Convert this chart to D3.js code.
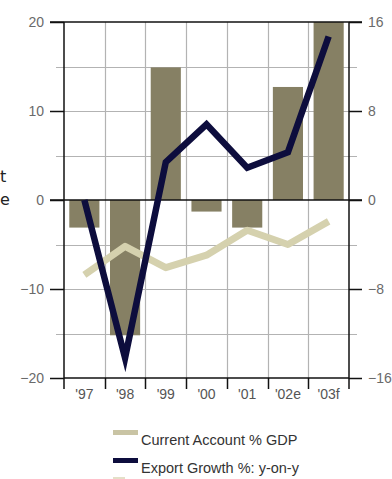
<!DOCTYPE html>
<html>
<head>
<meta charset="utf-8">
<script src="https://cdn.jsdelivr.net/npm/d3@7"></script>
<style>
  html, body { margin: 0; padding: 0; background: #fff; }
  svg { display: block; }
  text { font-family: "Liberation Sans", Arial, sans-serif; }
</style>
</head>
<body>
<svg id="chart" width="392" height="479"></svg>
<script>
// Categories (years; e = estimate, f = forecast)
const years = ["'97", "'98", "'99", "'00", "'01", "'02e", "'03f"];
// Bars on the left axis
const barValues = [-3.1, -15.2, 14.9, -1.3, -3.1, 12.7, 20];
// Current account, % of GDP (left axis)
const currentAccount = [-8.4, -5.2, -7.6, -6.2, -3.4, -5.0, -2.4];
// Export growth, % year-on-year (right axis)
const exportGrowth = [0, -14.2, 3.4, 6.8, 2.9, 4.3, 14.7];
// Axis ticks
const leftTicks = [20, 10, 0, -10, -20];
const rightTicks = [16, 8, 0, -8, -16];
const gridValues = [15, 10, 5, -5, -10, -15];
// Legend
const legendLabels = ["Current Account % GDP", "Export Growth %: y-on-y"];

const svg = d3.select("#chart");
const plot = { left: 64, right: 349, top: 22, bottom: 378 };

const x = d3.scaleBand().domain(years).range([plot.left, plot.right]).paddingInner(0).paddingOuter(0);
const yL = d3.scaleLinear().domain([-20, 20]).range([plot.bottom, plot.top]);
const yR = d3.scaleLinear().domain([-16, 16]).range([plot.bottom, plot.top]);

const gridColor = "#b3b3b3";
const barColor = "#868064";
const caColor = "#d5d1ae";
const expColor = "#0d0d3d";

// Horizontal gridlines
svg.append("g").selectAll("line").data(gridValues).join("line")
  .attr("x1", 56).attr("x2", 357)
  .attr("y1", d => Math.round(yL(d)) + 0.5).attr("y2", d => Math.round(yL(d)) + 0.5)
  .attr("stroke", gridColor).attr("stroke-width", 1.2);

// Vertical gridlines at category boundaries
const bounds = years.slice(1).map(d => x(d));
svg.append("g").selectAll("line").data(bounds).join("line")
  .attr("x1", d => Math.round(d) + 0.5).attr("x2", d => Math.round(d) + 0.5)
  .attr("y1", plot.top).attr("y2", plot.bottom)
  .attr("stroke", gridColor).attr("stroke-width", 1.2);

// Bars
const bw = x.bandwidth() * 0.74;
svg.append("g").selectAll("rect").data(years).join("rect")
  .attr("x", (d) => x(d) + (x.bandwidth() - bw) / 2)
  .attr("width", bw)
  .attr("y", (d, i) => Math.min(yL(0), yL(barValues[i])))
  .attr("height", (d, i) => Math.abs(yL(barValues[i]) - yL(0)))
  .attr("fill", barColor);

// Zero line
svg.append("line")
  .attr("x1", 50).attr("x2", 362)
  .attr("y1", yL(0)).attr("y2", yL(0))
  .attr("stroke", "#111").attr("stroke-width", 1.5);

// Lines
const cx = d => x(d) + x.bandwidth() / 2;
const caLine = d3.line().x((d, i) => cx(years[i])).y(d => yL(d));
const expLine = d3.line().x((d, i) => cx(years[i])).y(d => yR(d));

svg.append("path").datum(currentAccount)
  .attr("d", caLine).attr("fill", "none")
  .attr("stroke", caColor).attr("stroke-width", 7)
  .attr("stroke-linejoin", "round");

svg.append("path").datum(exportGrowth)
  .attr("d", expLine).attr("fill", "none")
  .attr("stroke", expColor).attr("stroke-width", 6.5)
  .attr("stroke-linejoin", "miter").attr("stroke-miterlimit", 10);

// Frame: top, left and right axes
const axisColor = "#111";
svg.append("line").attr("x1", 50).attr("x2", 362).attr("y1", plot.top).attr("y2", plot.top)
  .attr("stroke", axisColor).attr("stroke-width", 1.5);
svg.append("line").attr("x1", plot.left).attr("x2", plot.left).attr("y1", plot.top).attr("y2", 389)
  .attr("stroke", axisColor).attr("stroke-width", 1.5);
svg.append("line").attr("x1", plot.right).attr("x2", plot.right).attr("y1", plot.top).attr("y2", 389)
  .attr("stroke", axisColor).attr("stroke-width", 1.5);

// Left axis
const leftAxis = d3.axisLeft(yL).tickValues(leftTicks).tickSize(14).tickPadding(6).tickFormat(d3.format("d"));
const gL = svg.append("g").attr("transform", `translate(${plot.left},0)`).call(leftAxis);
gL.select(".domain").remove();
gL.selectAll(".tick line").attr("stroke", axisColor).attr("stroke-width", 1.5);
gL.selectAll(".tick text").attr("fill", "#6a6a6a").style("font-size", "14px").style("font-family", "Liberation Sans, Arial, sans-serif");

// Right axis
const rightAxis = d3.axisRight(yR).tickValues(rightTicks).tickSize(13).tickPadding(6).tickFormat(d3.format("d"));
const gR = svg.append("g").attr("transform", `translate(${plot.right},0)`).call(rightAxis);
gR.select(".domain").remove();
gR.selectAll(".tick line").attr("stroke", axisColor).attr("stroke-width", 1.5);
gR.selectAll(".tick text").attr("fill", "#6a6a6a").style("font-size", "14px").style("font-family", "Liberation Sans, Arial, sans-serif");

// Bottom axis: ticks at category boundaries, labels centred in each category
svg.append("g").selectAll("line").data(bounds).join("line")
  .attr("x1", d => Math.round(d) + 0.5).attr("x2", d => Math.round(d) + 0.5)
  .attr("y1", plot.bottom).attr("y2", 389)
  .attr("stroke", axisColor).attr("stroke-width", 1.5);
svg.append("line").attr("x1", plot.left).attr("x2", plot.right).attr("y1", plot.bottom).attr("y2", plot.bottom)
  .attr("stroke", axisColor).attr("stroke-width", 1.5);
svg.append("g").selectAll("text").data(years).join("text")
  .attr("x", d => cx(d)).attr("y", 399)
  .attr("text-anchor", "middle")
  .attr("fill", "#555").style("font-size", "14px")
  .text(d => d);

// Legend
const legendColors = [caColor, expColor];
const lg = svg.append("g");
legendLabels.forEach((label, i) => {
  const y0 = 430 + i * 28;
  lg.append("rect").attr("x", 113).attr("y", y0).attr("width", 25).attr("height", 5)
    .attr("fill", i === 0 ? "#c9c4a4" : legendColors[i]);
  lg.append("text").attr("x", 141).attr("y", y0 + 15)
    .attr("fill", "#333").style("font-size", "14.5px")
    .text(label);
});
lg.append("rect").attr("x", 113).attr("y", 477).attr("width", 12).attr("height", 4).attr("fill", "#e4e0c8");

// Letters from the neighbouring page column, at the left margin
svg.append("text").attr("x", 0).attr("y", 182)
  .attr("fill", "#222").style("font-size", "16px").style("font-family", "DejaVu Sans, sans-serif").text("t");
svg.append("text").attr("x", 0).attr("y", 205)
  .attr("fill", "#222").style("font-size", "16px").style("font-family", "DejaVu Sans, sans-serif").text("e");
</script>
</body>
</html>
